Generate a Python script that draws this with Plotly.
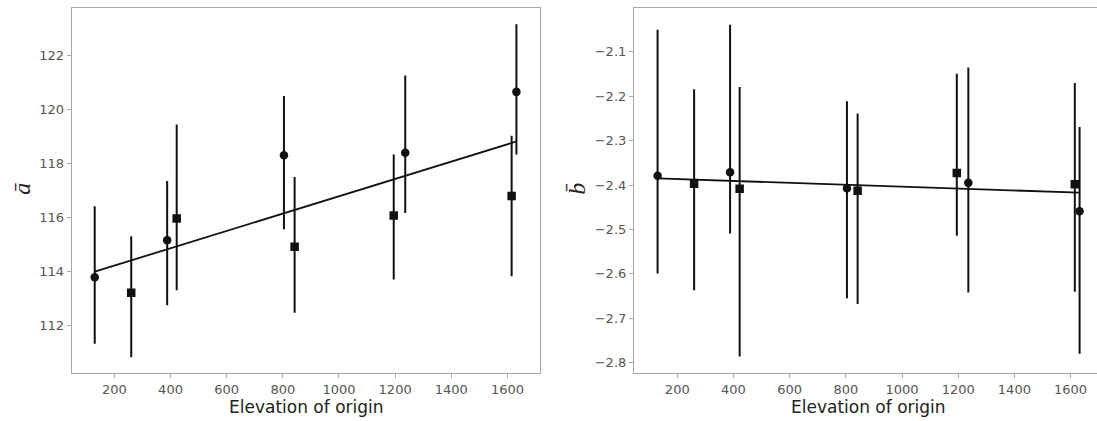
import plotly.graph_objects as go

# ---- data ----
circle_x = [130, 388, 804, 1236, 1632]
square_x = [260, 422, 842, 1195, 1615]

a_circle = [113.78, 115.16, 118.31, 118.40, 120.66]
a_circle_hi = [116.42, 117.35, 120.51, 121.27, 123.17]
a_circle_lo = [111.32, 112.74, 115.56, 116.17, 118.34]
a_square = [113.21, 115.96, 114.91, 116.07, 116.80]
a_square_hi = [115.30, 119.45, 117.50, 118.34, 119.03]
a_square_lo = [110.82, 113.30, 112.47, 113.70, 113.82]
a_fit_x = [130, 1632]
a_fit_y = [113.99, 118.82]

b_circle = [-2.379, -2.371, -2.407, -2.395, -2.459]
b_circle_hi = [-2.050, -2.039, -2.211, -2.135, -2.269]
b_circle_lo = [-2.599, -2.509, -2.655, -2.642, -2.780]
b_square = [-2.397, -2.408, -2.413, -2.373, -2.398]
b_square_hi = [-2.184, -2.179, -2.239, -2.149, -2.170]
b_square_lo = [-2.637, -2.786, -2.668, -2.514, -2.640]
b_fit_x = [131, 1631]
b_fit_y = [-2.385, -2.417]

x_ticks = [200, 400, 600, 800, 1000, 1200, 1400, 1600]
a_ticks = [112, 114, 116, 118, 120, 122]
b_ticks = [-2.8, -2.7, -2.6, -2.5, -2.4, -2.3, -2.2, -2.1]

W, H = 1097, 421
BLACK = "#111111"


def err(y, hi, lo):
    return dict(type="data", symmetric=False,
                array=[h - v for h, v in zip(hi, y)],
                arrayminus=[v - l for v, l in zip(y, lo)],
                color=BLACK, thickness=2, width=0)


fig = go.Figure()

panels = [
    ("x", "y", a_fit_x, a_fit_y, a_circle, a_circle_hi, a_circle_lo,
     a_square, a_square_hi, a_square_lo),
    ("x2", "y2", b_fit_x, b_fit_y, b_circle, b_circle_hi, b_circle_lo,
     b_square, b_square_hi, b_square_lo),
]
for xa, ya, fx, fy, cy, chi, clo, sy, shi, slo in panels:
    fig.add_trace(go.Scatter(x=fx, y=fy, mode="lines", xaxis=xa, yaxis=ya,
                             line=dict(color=BLACK, width=1.8), showlegend=False))
    fig.add_trace(go.Scatter(x=circle_x, y=cy, mode="markers", xaxis=xa, yaxis=ya,
                             marker=dict(symbol="circle", size=8.5, color=BLACK),
                             error_y=err(cy, chi, clo), showlegend=False))
    fig.add_trace(go.Scatter(x=square_x, y=sy, mode="markers", xaxis=xa, yaxis=ya,
                             marker=dict(symbol="square", size=8.5, color=BLACK),
                             error_y=err(sy, shi, slo), showlegend=False))

spine = "#a8a8a8"
tickfont = dict(family="DejaVu Sans", size=13, color="#555555")
y_top = 1 - 7.5 / H
y_bot = 1 - 373.3 / H

common_x = dict(showgrid=False, zeroline=False, showline=True, linecolor=spine,
                linewidth=1.2, ticks="outside", ticklen=4, tickcolor=spine,
                tickvals=x_ticks, tickfont=tickfont, automargin=False)
common_y = dict(showgrid=False, zeroline=False, showline=True, linecolor=spine,
                linewidth=1.2, ticks="outside", ticklen=4, tickcolor=spine,
                tickfont=tickfont, automargin=False, domain=[y_bot, y_top])

fig.update_layout(
    width=W, height=H,
    margin=dict(l=0, r=0, t=0, b=0),
    paper_bgcolor="white", plot_bgcolor="white",
    xaxis=dict(common_x, domain=[71.7 / W, 540 / W], range=[48, 1716],
               mirror=True, anchor="y"),
    yaxis=dict(common_y, range=[110.22, 123.79], tickvals=a_ticks,
               mirror=True, anchor="x"),
    xaxis2=dict(common_x, domain=[634 / W, 1.0], range=[46, 1694],
                mirror=True, anchor="y2"),
    yaxis2=dict(common_y, range=[-2.8238, -2.0001], tickvals=b_ticks,
                ticktext=["\u2212" + f"{abs(v):.1f}" for v in b_ticks],
                mirror=False, anchor="x2"),
)

title_font = dict(family="DejaVu Sans", size=17, color="#222222")
label_font = dict(family="Liberation Serif, DejaVu Serif", size=24, color="#222222")
yc = 1 - 189 / H
fig.add_annotation(text="Elevation of origin", xref="paper", yref="paper",
                   x=306 / W, y=1 - 407 / H, showarrow=False, font=title_font,
                   xanchor="center", yanchor="middle")
fig.add_annotation(text="Elevation of origin", xref="paper", yref="paper",
                   x=868 / W, y=1 - 407 / H, showarrow=False, font=title_font,
                   xanchor="center", yanchor="middle")
fig.add_annotation(text="<i>a\u0304</i>", xref="paper", yref="paper",
                   x=21.7 / W, y=yc, showarrow=False, font=label_font,
                   textangle=-90, xanchor="center", yanchor="middle")
fig.add_annotation(text="<i>b\u0304</i>", xref="paper", yref="paper",
                   x=576.7 / W, y=yc, showarrow=False, font=label_font,
                   textangle=-90, xanchor="center", yanchor="middle")

fig.write_html("out.html",
               config={"displayModeBar": False},
               post_script="document.body.style.margin='0';"
                           "document.body.style.padding='0';")
